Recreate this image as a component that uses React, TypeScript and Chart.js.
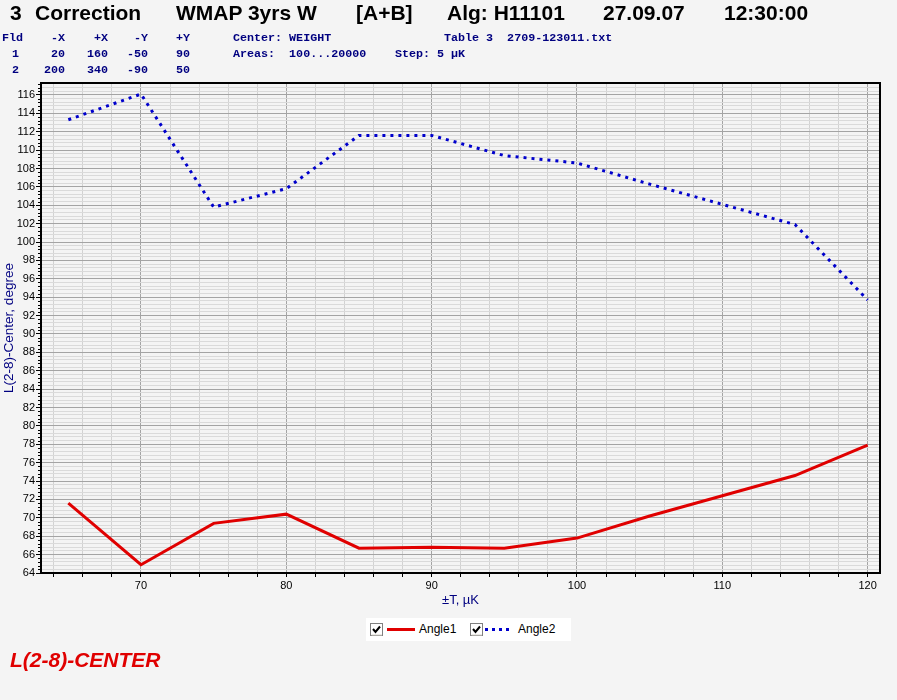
import React, { useEffect, useRef } from 'react';
import { Chart, registerables } from 'chart.js';

Chart.register(...registerables);

// ---- data ----
const temperatures = [65, 70, 75, 80, 85, 90, 95, 100, 105, 110, 115, 120];
const angle1 = [71.6, 64.9, 69.4, 70.4, 66.7, 66.8, 66.7, 67.8, 70.2, 72.4, 74.6, 77.9];
const angle2 = [113.3, 116.1, 103.8, 105.8, 111.6, 111.6, 109.4, 108.6, 106.3, 104.1, 101.9, 93.7];
const seriesNames = ['Angle1', 'Angle2'];

// ---- axes ----
const xMin = 63.12;
const xMax = 120.85;
const yMin = 64;
const yMax = 117.3;
const xGridStep = 2;
const xLabelStep = 10;
const yGridStep = 0.4;
const yLabelStep = 2;

const isMultiple = (v: number, step: number) => Math.abs(v / step - Math.round(v / step)) < 1e-6;

const buildGridValues = (from: number, to: number, step: number) => {
  const out: number[] = [];
  const start = Math.ceil(from / step - 1e-9);
  const end = Math.floor(to / step + 1e-9);
  for (let k = start; k <= end; k++) out.push(Math.round(k * step * 1000) / 1000);
  return out;
};

const framePlugin = {
  id: 'frame',
  afterDatasetsDraw(chart: any) {
    const { ctx, chartArea: a } = chart;
    const y = chart.scales.y;
    ctx.save();
    // short minor tick marks on the y axis
    ctx.strokeStyle = '#000';
    ctx.lineWidth = 1;
    ctx.beginPath();
    for (const t of y.ticks) {
      if (isMultiple(t.value, yLabelStep)) continue;
      const py = Math.round(y.getPixelForValue(t.value)) + 0.5;
      ctx.moveTo(a.left - 3, py);
      ctx.lineTo(a.left, py);
    }
    ctx.stroke();
    ctx.strokeStyle = '#000';
    ctx.lineWidth = 2;
    ctx.strokeRect(a.left, a.top, a.right - a.left, a.bottom - a.top);
    ctx.restore();
  },
};

const navy = '#000080';
const mono = 'bold 11.7px "Liberation Mono", "DejaVu Sans Mono", monospace';

const Txt = ({ text, left, top, font, color, width, align }: any) => (
  <div
    style={{
      position: 'absolute',
      left,
      top,
      font,
      color,
      whiteSpace: 'pre',
      lineHeight: '16px',
      width,
      textAlign: align || 'left',
    }}
  >
    {text}
  </div>
);

const CheckBox = ({ left }: { left: number }) => (
  <svg width={13} height={13} style={{ position: 'absolute', left, top: 5 }}>
    <rect x={0.5} y={0.5} width={12} height={12} fill="#fff" stroke="#808080" />
    <line x1={1.5} y1={12} x2={12} y2={12} stroke="#d4d0c8" />
    <polyline points="3,6 5.5,9 10,3.5" fill="none" stroke="#000" strokeWidth={2} />
  </svg>
);

export default function App() {
  const ref = useRef<HTMLCanvasElement>(null);

  useEffect(() => {
    const canvas = ref.current!;
    const chart = new Chart(canvas, {
      type: 'line',
      data: {
        datasets: [
          {
            label: seriesNames[0],
            data: temperatures.map((t, i) => ({ x: t, y: angle1[i] })),
            borderColor: '#e00000',
            borderWidth: 3,
            pointRadius: 0,
            tension: 0,
            fill: false,
          },
          {
            label: seriesNames[1],
            data: temperatures.map((t, i) => ({ x: t, y: angle2[i] })),
            borderColor: '#0000cc',
            borderWidth: 3,
            borderDash: [3, 5],
            pointRadius: 0,
            tension: 0,
            fill: false,
          },
        ],
      },
      options: {
        responsive: false,
        animation: false,
        devicePixelRatio: 1,
        layout: { padding: { top: 83, right: 17, bottom: 91, left: 0 } },
        plugins: { legend: { display: false }, tooltip: { enabled: false } },
        scales: {
          x: {
            type: 'linear',
            min: xMin,
            max: xMax,
            afterBuildTicks: (axis: any) => {
              axis.ticks = buildGridValues(xMin, xMax, xGridStep).map((v) => ({ value: v }));
            },
            afterFit: (axis: any) => {
              axis.height = 36;
            },
            ticks: {
              autoSkip: false,
              maxRotation: 0,
              padding: 2,
              color: '#000',
              font: { family: 'Arial, "Liberation Sans", sans-serif', size: 11 },
              callback: (v: any) => (isMultiple(Number(v), xLabelStep) ? String(Math.round(Number(v))) : ''),
            },
            grid: {
              color: (c: any) => (c.tick && isMultiple(c.tick.value, xLabelStep) ? '#a4a4a4' : '#d2d2d2'),
              lineWidth: 1,
              tickLength: 4,
              tickColor: '#000',
            },
            border: { display: false },
            title: {
              display: true,
              text: '±T, µK',
              color: navy,
              font: { family: 'Arial, "Liberation Sans", sans-serif', size: 13 },
              padding: { top: 0, bottom: 1 },
            },
          },
          y: {
            type: 'linear',
            min: yMin,
            max: yMax,
            afterBuildTicks: (axis: any) => {
              axis.ticks = buildGridValues(yMin, yMax, yGridStep).map((v) => ({ value: v }));
            },
            afterFit: (axis: any) => {
              axis.width = 41;
            },
            ticks: {
              autoSkip: false,
              padding: 1,
              color: '#000',
              font: { family: 'Arial, "Liberation Sans", sans-serif', size: 11 },
              callback: (v: any) => (isMultiple(Number(v), yLabelStep) ? String(Math.round(Number(v))) : ''),
            },
            grid: {
              color: (c: any) => (c.tick && isMultiple(c.tick.value, yLabelStep) ? '#a4a4a4' : '#dadada'),
              lineWidth: 1,
              tickLength: 5,
              tickColor: (c: any) => (c.tick && isMultiple(c.tick.value, yLabelStep) ? '#000' : 'rgba(0,0,0,0)'),
            },
            border: { display: false },
            title: {
              display: true,
              text: 'L(2-8)-Center, degree',
              color: navy,
              font: { family: 'Arial, "Liberation Sans", sans-serif', size: 13.5 },
              padding: { top: 1, bottom: 0 },
            },
          },
        },
      },
      plugins: [framePlugin],
    });
    return () => chart.destroy();
  }, []);

  const titleFont = 'bold 21px Arial, "Liberation Sans", sans-serif';
  const head: [string, number][] = [
    ['3', 10],
    ['Correction', 35],
    ['WMAP 3yrs W', 176],
    ['[A+B]', 356],
    ['Alg: H11101', 447],
    ['27.09.07', 603],
    ['12:30:00', 724],
  ];
  // right-aligned field table: [text, rightEdge, top]
  const table: [string, number, number][] = [
    ['-X', 65, 30], ['+X', 108, 30], ['-Y', 148, 30], ['+Y', 190, 30],
    ['1', 19, 46], ['20', 65, 46], ['160', 108, 46], ['-50', 148, 46], ['90', 190, 46],
    ['2', 19, 62], ['200', 65, 62], ['340', 108, 62], ['-90', 148, 62], ['50', 190, 62],
  ];

  return (
    <div
      style={{
        position: 'absolute',
        left: 0,
        top: 0,
        width: 897,
        height: 700,
        background: '#f4f4f4',
        overflow: 'hidden',
      }}
    >
      <canvas ref={ref} width={897} height={700} style={{ position: 'absolute', left: 0, top: 0, width: 897, height: 700 }} />
      {head.map(([t, l]) => (
        <div
          key={t}
          style={{ position: 'absolute', left: l, top: 1, font: titleFont, lineHeight: '24px', color: '#000', whiteSpace: 'pre' }}
        >
          {t}
        </div>
      ))}
      <Txt text="Fld" left={2} top={30} font={mono} color={navy} />
      {table.map(([t, r, top], i) => (
        <Txt key={i} text={t} left={r - 40} top={top} width={40} align="right" font={mono} color={navy} />
      ))}
      <Txt text="Center: WEIGHT" left={233} top={30} font={mono} color={navy} />
      <Txt text="Table 3  2709-123011.txt" left={444} top={30} font={mono} color={navy} />
      <Txt text="Areas:  100...20000" left={233} top={46} font={mono} color={navy} />
      <Txt text="Step: 5 µK" left={395} top={46} font={mono} color={navy} />

      <div style={{ position: 'absolute', left: 366, top: 618, width: 205, height: 23, background: '#fff' }}>
        <CheckBox left={4} />
        <div style={{ position: 'absolute', left: 21, top: 10, width: 28, height: 3, background: '#e00000' }} />
        <div
          style={{ position: 'absolute', left: 53, top: 4, font: '12px Arial, "Liberation Sans", sans-serif', lineHeight: '14px', color: '#000' }}
        >
          {seriesNames[0]}
        </div>
        <CheckBox left={104} />
        <div
          style={{
            position: 'absolute',
            left: 119,
            top: 10,
            width: 28,
            height: 3,
            background: 'repeating-linear-gradient(to right, #0000cc 0px, #0000cc 3px, transparent 3px, transparent 7px)',
          }}
        />
        <div
          style={{ position: 'absolute', left: 152, top: 4, font: '12px Arial, "Liberation Sans", sans-serif', lineHeight: '14px', color: '#000' }}
        >
          {seriesNames[1]}
        </div>
      </div>

      <div
        style={{
          position: 'absolute',
          left: 10,
          top: 648,
          font: 'italic bold 21px Arial, "Liberation Sans", sans-serif',
          lineHeight: '24px',
          color: '#e00000',
          whiteSpace: 'pre',
        }}
      >
        L(2-8)-CENTER
      </div>
    </div>
  );
}
